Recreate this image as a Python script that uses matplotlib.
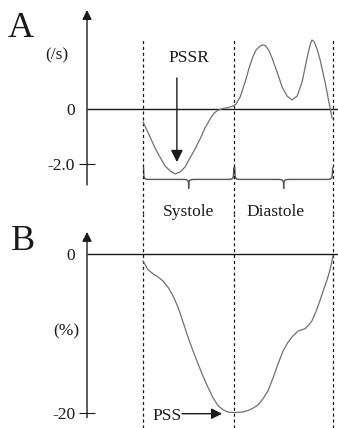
import matplotlib
matplotlib.use("Agg")
import numpy as np
import matplotlib.pyplot as plt
from matplotlib.path import Path
from matplotlib.patches import PathPatch

plt.rcParams['font.family'] = ['Liberation Serif', 'DejaVu Serif']

# ---------------- data ----------------
# time within one cardiac cycle (ms)
phase_bounds = [0, 480, 1000]          # AVO, AVC (end-systole), end of cycle
phase_names = ["Systole", "Diastole"]

# A: strain rate (/s)
sr_time = [0, 37, 63, 89, 116, 142, 168, 195, 221, 247, 274, 300, 326, 353, 374,
           395, 421, 447, 474, 489, 511, 537, 558, 579, 595, 616, 632, 645, 663,
           679, 705, 732, 758, 784, 811, 837, 863, 879, 889, 900, 916, 932, 958,
           979, 995]
sr_vals = [-0.47, -1.02, -1.42, -1.75, -2.07, -2.25, -2.36, -2.29, -2.11, -1.78,
           -1.45, -1.09, -0.69, -0.36, -0.15, -0.04, 0.02, 0.05, 0.11, 0.18, 0.44,
           0.98, 1.49, 1.92, 2.15, 2.29, 2.33, 2.30, 2.12, 1.85, 1.35, 0.80, 0.47,
           0.33, 0.47, 0.98, 1.85, 2.33, 2.51, 2.45, 2.18, 1.78, 0.98, 0.22, -0.33]
sr_ticks = [0, -2.0]
sr_ticklabels = ["0", "-2.0"]

# B: strain (%)
st_time = [0, 26, 53, 79, 105, 132, 158, 184, 211, 237, 263, 289, 316, 342, 368,
           395, 421, 447, 484, 521, 553, 579, 605, 632, 658, 684, 711, 737, 763,
           789, 816, 853, 874, 889, 911, 932, 953, 968, 984, 1000]
st_vals = [-0.9, -2.0, -2.5, -2.9, -3.4, -4.2, -5.3, -6.7, -8.6, -10.5, -12.2,
           -13.8, -15.4, -16.8, -18.1, -19.1, -19.6, -19.9, -19.95, -19.9, -19.7,
           -19.4, -19.0, -18.2, -17.2, -15.6, -13.8, -12.2, -11.1, -10.3, -9.7,
           -9.4, -8.9, -8.4, -7.2, -5.8, -4.3, -3.3, -2.0, -0.25]
st_ticks = [0, -20]
st_ticklabels = ["0", "-20"]

# ---------------- figure ----------------
fig = plt.figure(figsize=(3.38, 4.28), dpi=100)
axA = fig.add_axes([0, 0.5, 1, 0.5])
axB = fig.add_axes([0, 0.0, 1, 0.5])

XLIM = (-753, 1026)
AXIS_T = -295
INK = '#1a1a1a'
CURVE = '#707070'
FS = 12.5

axA.set_ylim(-3.818, 3.964)
axB.set_ylim(-21.9, 5.03)

for ax, ticks, labels in ((axA, sr_ticks, sr_ticklabels), (axB, st_ticks, st_ticklabels)):
    ax.set_xlim(XLIM)
    for s in ('top', 'right', 'bottom'):
        ax.spines[s].set_visible(False)
    ax.spines['left'].set_position(('data', AXIS_T))
    ax.spines['left'].set_visible(False)
    ax.set_xticks([])
    ax.patch.set_alpha(0)
    ax.set_yticks(ticks)
    ax.set_yticklabels(labels)
    ax.tick_params(axis='y', direction='inout', length=11, width=0.8,
                   labelsize=FS, pad=3, color=INK, labelcolor=INK)
    ax.yaxis.get_major_ticks()[0].tick1line.set_visible(False)
    # zero line
    ax.hlines(0, AXIS_T, XLIM[1], color=INK, lw=1.0)
    # phase boundaries
    for t in phase_bounds:
        ax.axvline(t, ymin=0, ymax=(0.813 if ax is axA else 1.0), color=INK,
                   lw=0.9, ls=(0, (2.5, 2.2)))

# vertical axes with arrow heads
axA.annotate('', xy=(AXIS_T, 3.6), xytext=(AXIS_T, -2.76),
             arrowprops=dict(arrowstyle='-|>', color=INK, lw=1.0,
                             mutation_scale=14, shrinkA=0, shrinkB=0))
axB.annotate('', xy=(AXIS_T, 2.78), xytext=(AXIS_T, -20.6),
             arrowprops=dict(arrowstyle='-|>', color=INK, lw=1.0,
                             mutation_scale=14, shrinkA=0, shrinkB=0))

# curves
axA.plot(sr_time, sr_vals, color=CURVE, lw=0.9, solid_joinstyle='round')
axB.plot(st_time, st_vals, color=CURVE, lw=0.9, solid_joinstyle='round')

# panel letters and units
axA.text(0.062, 0.827, 'A', transform=axA.transAxes, ha='center', va='baseline',
         fontsize=26, color=INK)
axB.text(0.067, 0.832, 'B', transform=axB.transAxes, ha='center', va='baseline',
         fontsize=26, color=INK)
axA.text(0.169, 0.743, '(/s)', transform=axA.transAxes, ha='center', va='center',
         fontsize=FS, color=INK)
axB.text(0.195, 0.453, '(%)', transform=axB.transAxes, ha='center', va='center',
         fontsize=FS, color=INK)

# PSSR annotation
i_min = int(np.argmin(sr_vals))
t_min = sr_time[i_min]
axA.annotate('', xy=(t_min + 10, sr_vals[i_min] + 0.43), xytext=(t_min + 10, 1.13),
             arrowprops=dict(arrowstyle='-|>', color=INK, lw=1.0,
                             mutation_scale=18, shrinkA=0, shrinkB=0))
axA.text(t_min + 74, 1.71, 'PSSR', ha='center', va='baseline', fontsize=FS, color=INK)

# PSS annotation
j_min = int(np.argmin(st_vals))
pss = st_vals[j_min]
axB.annotate('', xy=(416, pss - 0.15), xytext=(205, pss - 0.15),
             arrowprops=dict(arrowstyle='-|>', color=INK, lw=1.0,
                             mutation_scale=16, shrinkA=0, shrinkB=0))
axB.text(126, pss - 0.95, 'PSS', ha='center', va='baseline', fontsize=FS, color=INK)


# braces under panel A
def brace(ax, x0, x1, ytop, ymid, ytip, r_end, r_tip):
    xm = 0.5 * (x0 + x1)
    verts = [(x0, ytop),
             (x0, ymid), (x0, ymid), (x0 + r_end, ymid),
             (xm - r_tip, ymid),
             (xm, ymid), (xm, ymid), (xm, ytip),
             (xm, ymid), (xm, ymid), (xm + r_tip, ymid),
             (x1 - r_end, ymid),
             (x1, ymid), (x1, ymid), (x1, ytop)]
    codes = [Path.MOVETO,
             Path.CURVE4, Path.CURVE4, Path.CURVE4,
             Path.LINETO,
             Path.CURVE4, Path.CURVE4, Path.CURVE4,
             Path.CURVE4, Path.CURVE4, Path.CURVE4,
             Path.LINETO,
             Path.CURVE4, Path.CURVE4, Path.CURVE4]
    ax.add_patch(PathPatch(Path(verts, codes), fill=False, ec='#555555', lw=1.0,
                           clip_on=False))

label_dx = [0, -45]
for k, name in enumerate(phase_names):
    a, b = phase_bounds[k], phase_bounds[k + 1]
    brace(axA, a + 3, b - 3, -2.12, -2.56, -2.9, 34, 40)
    axA.text(0.5 * (a + b) + label_dx[k], -3.89, name, ha='center', va='baseline',
             fontsize=FS, color=INK, clip_on=False)

fig.savefig('out.png', dpi=100)
